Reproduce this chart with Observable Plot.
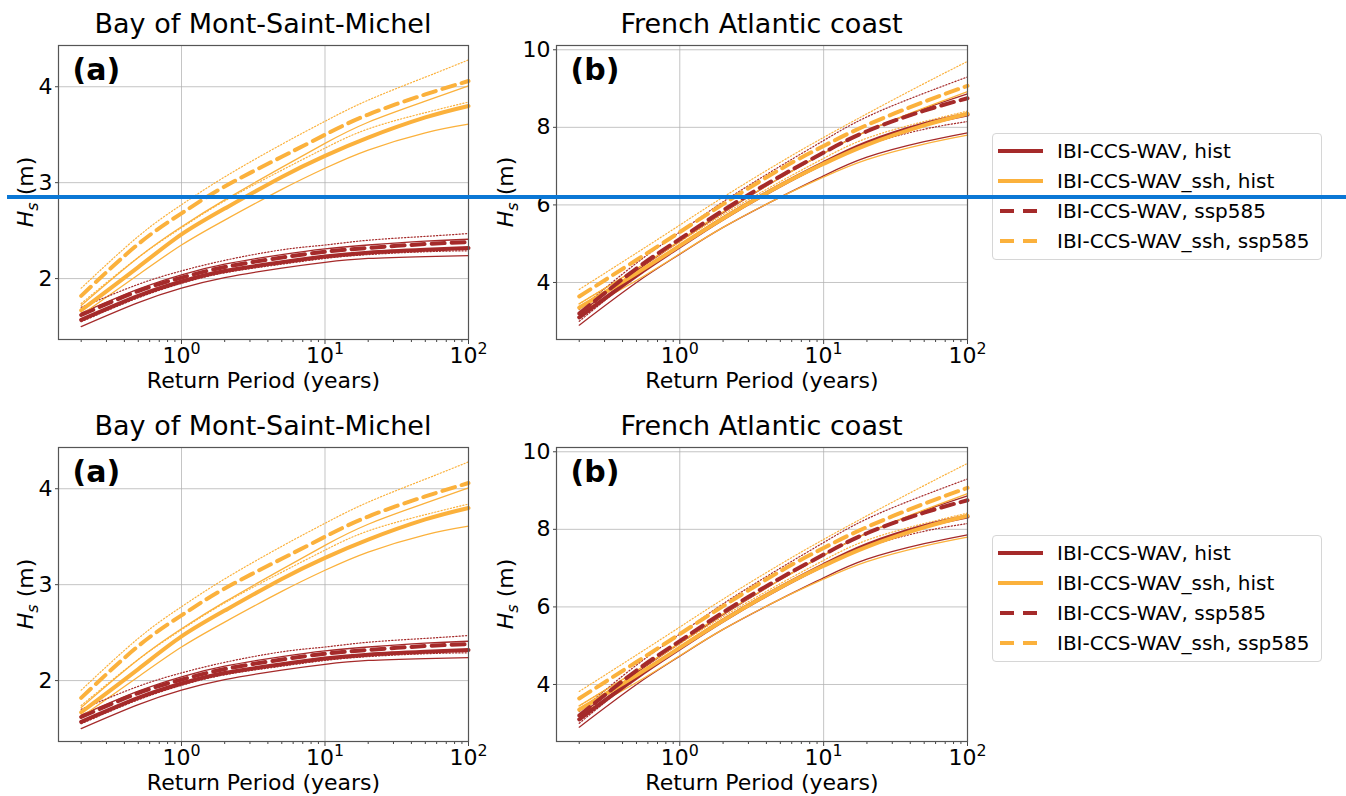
<!DOCTYPE html>
<html><head><meta charset="utf-8">
<script src="https://cdn.jsdelivr.net/npm/d3@7"></script>
<script src="https://cdn.jsdelivr.net/npm/@observablehq/plot@0.6"></script>
<style>
body{margin:0;background:#fff;font-family:"DejaVu Sans",sans-serif;}
#fig{position:relative;width:1346px;height:796px;overflow:hidden;background:#fff}
.panel{position:absolute}
.legend{position:absolute;left:992px;width:330px;height:127px;border:1px solid #d6d6d6;border-radius:4px;background:#fff;box-sizing:border-box}
.blue{position:absolute;left:7px;width:1339px;top:195px;height:4px;background:#0a77d5}
</style></head>
<body><div id="fig"></div>
<script>
// ---------- data ----------
const periods = [0.2, 0.5, 1, 2, 5, 10, 20, 50, 100];
const xMajor = [1, 10, 100];
const xMinor = [0.2,0.3,0.4,0.5,0.6,0.7,0.8,0.9,2,3,4,5,6,7,8,9,20,30,40,50,60,70,80,90];
const models = ["IBI-CCS-WAV", "IBI-CCS-WAV_ssh"];
const scenarios = ["hist", "ssp585"];
const modelColors = ["#a52a2a", "#fbb13c"];
const panelTitles = ["Bay of Mont-Saint-Michel", "French Atlantic coast"];
const panelTags = ["(a)", "(b)"];
const yTicksA = [2, 3, 4];
const yTicksB = [4, 6, 8, 10];

// Bay of Mont-Saint-Michel (a)
const msmWavHist    = [1.57, 1.82, 1.97, 2.08, 2.17, 2.23, 2.27, 2.30, 2.32];
const msmWavHistLo  = [1.50, 1.75, 1.90, 2.01, 2.11, 2.17, 2.21, 2.23, 2.24];
const msmWavHistHi  = [1.64, 1.89, 2.04, 2.15, 2.25, 2.31, 2.35, 2.39, 2.41];
const msmWavSsp     = [1.62, 1.87, 2.01, 2.12, 2.22, 2.28, 2.32, 2.36, 2.38];
const msmWavSspLo   = [1.55, 1.80, 1.95, 2.06, 2.15, 2.21, 2.25, 2.28, 2.29];
const msmWavSspHi   = [1.70, 1.94, 2.08, 2.19, 2.30, 2.35, 2.40, 2.44, 2.47];
const msmSshHist    = [1.67, 2.12, 2.46, 2.73, 3.06, 3.28, 3.47, 3.68, 3.80];
const msmSshHistLo  = [1.62, 2.04, 2.35, 2.61, 2.93, 3.15, 3.34, 3.52, 3.61];
const msmSshHistHi  = [1.72, 2.22, 2.54, 2.82, 3.16, 3.41, 3.63, 3.85, 4.01];
const msmSshSsp     = [1.82, 2.36, 2.68, 2.96, 3.27, 3.50, 3.71, 3.92, 4.06];
const msmSshSspLo   = [1.74, 2.22, 2.53, 2.81, 3.13, 3.36, 3.56, 3.73, 3.84];
const msmSshSspHi   = [1.90, 2.44, 2.77, 3.06, 3.40, 3.64, 3.86, 4.10, 4.28];

// French Atlantic coast (b)
const facWavHist    = [3.10, 4.18, 4.93, 5.65, 6.50, 7.08, 7.60, 8.08, 8.33];
const facWavHistLo  = [2.90, 4.00, 4.73, 5.42, 6.20, 6.75, 7.23, 7.63, 7.86];
const facWavHistHi  = [3.20, 4.30, 5.06, 5.80, 6.70, 7.33, 7.90, 8.48, 8.86];
const facWavSsp     = [3.20, 4.36, 5.12, 5.86, 6.74, 7.35, 7.90, 8.43, 8.75];
const facWavSspLo   = [3.00, 4.18, 4.95, 5.65, 6.48, 7.08, 7.55, 7.95, 8.15];
const facWavSspHi   = [3.30, 4.50, 5.30, 6.08, 7.00, 7.66, 8.27, 8.88, 9.30];
const facSshHist    = [3.35, 4.24, 4.95, 5.65, 6.50, 7.06, 7.55, 8.05, 8.35];
const facSshHistLo  = [3.22, 4.05, 4.74, 5.42, 6.20, 6.72, 7.17, 7.57, 7.80];
const facSshHistHi  = [3.45, 4.35, 5.08, 5.82, 6.70, 7.33, 7.90, 8.50, 8.92];
const facSshSsp     = [3.64, 4.58, 5.30, 6.02, 6.92, 7.52, 8.06, 8.66, 9.07];
const facSshSspLo   = [3.45, 4.35, 5.05, 5.75, 6.60, 7.20, 7.72, 8.15, 8.42];
const facSshSspHi   = [3.82, 4.76, 5.48, 6.20, 7.10, 7.74, 8.35, 9.13, 9.70];

// ---------- build tables ----------
function rowsFrom(list) {
  const rows = [];
  for (const [model, scenario, part, vals] of list)
    vals.forEach((v, i) => rows.push({period: periods[i], hs: v, model, scenario, part}));
  return rows;
}
const msmRows = rowsFrom([
  [models[0], "hist", "lo", msmWavHistLo], [models[0], "hist", "hi", msmWavHistHi],
  [models[0], "ssp585", "lo", msmWavSspLo], [models[0], "ssp585", "hi", msmWavSspHi],
  [models[1], "hist", "lo", msmSshHistLo], [models[1], "hist", "hi", msmSshHistHi],
  [models[1], "ssp585", "lo", msmSshSspLo], [models[1], "ssp585", "hi", msmSshSspHi],
  [models[0], "hist", "mid", msmWavHist], [models[1], "hist", "mid", msmSshHist],
  [models[0], "ssp585", "mid", msmWavSsp], [models[1], "ssp585", "mid", msmSshSsp]
]);
const facRows = rowsFrom([
  [models[0], "hist", "lo", facWavHistLo], [models[0], "hist", "hi", facWavHistHi],
  [models[0], "ssp585", "lo", facWavSspLo], [models[0], "ssp585", "hi", facWavSspHi],
  [models[1], "hist", "lo", facSshHistLo], [models[1], "hist", "hi", facSshHistHi],
  [models[1], "ssp585", "lo", facSshSspLo], [models[1], "ssp585", "hi", facSshSspHi],
  [models[0], "hist", "mid", facWavHist], [models[1], "hist", "mid", facSshHist],
  [models[0], "ssp585", "mid", facWavSsp], [models[1], "ssp585", "mid", facSshSsp]
]);

const xDomain = [Math.pow(10, -0.857), 100];
const gridStyle = {stroke: "#b0b0b0", strokeOpacity: 0.75, strokeWidth: 1};

function lineMarks(rows) {
  const base = {x: "period", y: "hs", z: d => d.model + d.scenario + d.part, stroke: "model", curve: "natural"};
  return [
    Plot.line(rows.filter(d => d.part !== "mid" && d.scenario === "hist"), {...base, strokeWidth: 1.3}),
    Plot.line(rows.filter(d => d.part !== "mid" && d.scenario === "ssp585"), {...base, strokeWidth: 1.2, strokeDasharray: "1.2,2"}),
    Plot.line(rows.filter(d => d.part === "mid" && d.scenario === "hist"), {...base, strokeWidth: 4}),
    Plot.line(rows.filter(d => d.part === "mid" && d.scenario === "ssp585"), {...base, strokeWidth: 4, strokeDasharray: "13,7"})
  ];
}

function makePanel(cfg) {
  const svg = Plot.plot({
    width: cfg.width, height: 400,
    marginLeft: cfg.mL, marginRight: cfg.mR, marginTop: 45, marginBottom: 61,
    style: {fontFamily: "DejaVu Sans", fontSize: "22px", background: "transparent", overflow: "visible", color: "#000"},
    x: {type: "log", domain: xDomain},
    y: {domain: cfg.yDomain},
    color: {domain: models, range: modelColors},
    marks: [
      Plot.gridX(xMajor, gridStyle),
      Plot.gridY(cfg.yTicks, gridStyle),
      Plot.axisX(xMinor, {tickSize: 3, tickFormat: () => "", label: null, stroke: "#444"}),
      Plot.axisX(xMajor, {tickSize: 5, tickPadding: 3, tickFormat: d => "10^" + Math.round(Math.log10(d)), label: null, stroke: "#444"}),
      Plot.axisY(cfg.yTicks, {tickSize: 3, tickPadding: 3, tickFormat: d => String(d), label: null, stroke: "#444"}),
      ...lineMarks(cfg.rows),
      Plot.frame({stroke: "#555", strokeWidth: 1.2}),
      Plot.text([cfg.tag], {text: d => d, frameAnchor: "top-left", dx: 14, dy: 13, lineAnchor: "top", fontWeight: "bold", fontSize: 30}),
      Plot.text(["Return Period (years)"], {text: d => d, frameAnchor: "bottom", dy: 48})
    ]
  });
  // superscript exponents
  svg.querySelectorAll('g[aria-label="x-axis tick label"] text').forEach(t => {
    const m = /^10\^(\d)$/.exec(t.textContent);
    if (!m) return;
    t.textContent = "";
    const s = d3.select(t);
    s.append("tspan").text("10");
    s.append("tspan").attr("dy", "-0.55em").attr("font-size", "0.72em").text(m[1]);
  });
  const s = d3.select(svg);
  const cx = (cfg.mL + cfg.width - cfg.mR) / 2;
  s.append("text").attr("x", cx).attr("y", 33).attr("text-anchor", "middle")
    .attr("font-size", 27).attr("fill", "#000").text(cfg.title);
  const yl = s.append("text").attr("transform", "translate(33,192) rotate(-90)")
    .attr("text-anchor", "middle").attr("font-size", 22).attr("fill", "#000");
  yl.append("tspan").attr("font-style", "italic").text("H");
  yl.append("tspan").attr("font-style", "italic").attr("font-size", 16).attr("dy", 5).text("s");
  yl.append("tspan").attr("dy", -5).text(" (m)");
  svg.classList.add("panel");
  svg.style.left = cfg.left + "px";
  svg.style.top = cfg.top + "px";
  return svg;
}

function makeLegend(top) {
  const div = document.createElement("div");
  div.className = "legend";
  div.style.top = top + "px";
  const entries = [
    [models[0], scenarios[0]], [models[1], scenarios[0]],
    [models[0], scenarios[1]], [models[1], scenarios[1]]
  ];
  const svg = d3.create("svg").attr("width", 330).attr("height", 127);
  entries.forEach(([m, sc], i) => {
    const y = 17 + i * 30;
    const dashed = sc === "ssp585";
    svg.append("line").attr("x1", dashed ? 7 : 5).attr("x2", dashed ? 44 : 50).attr("y1", y).attr("y2", y)
      .attr("stroke", modelColors[models.indexOf(m)]).attr("stroke-width", 4)
      .attr("stroke-dasharray", dashed ? "14,9" : null);
    svg.append("text").attr("x", 64).attr("y", y + 7).attr("font-size", 20)
      .attr("font-family", "DejaVu Sans").attr("fill", "#000").text(m + ", " + sc);
  });
  div.appendChild(svg.node());
  return div;
}

const fig = document.getElementById("fig");
for (const off of [0, 402]) {
  fig.appendChild(makePanel({rows: msmRows, yDomain: [1.365, 4.43], yTicks: yTicksA, width: 480, mL: 58, mR: 12,
    left: 0, top: off, title: panelTitles[0], tag: panelTags[0]}));
  fig.appendChild(makePanel({rows: facRows, yDomain: [2.53, 10.11], yTicks: yTicksB, width: 500, mL: 76, mR: 13,
    left: 480, top: off, title: panelTitles[1], tag: panelTags[1]}));
  fig.appendChild(makeLegend(133 + off));
}
const blue = document.createElement("div");
blue.className = "blue";
fig.appendChild(blue);
</script>
</body></html>
